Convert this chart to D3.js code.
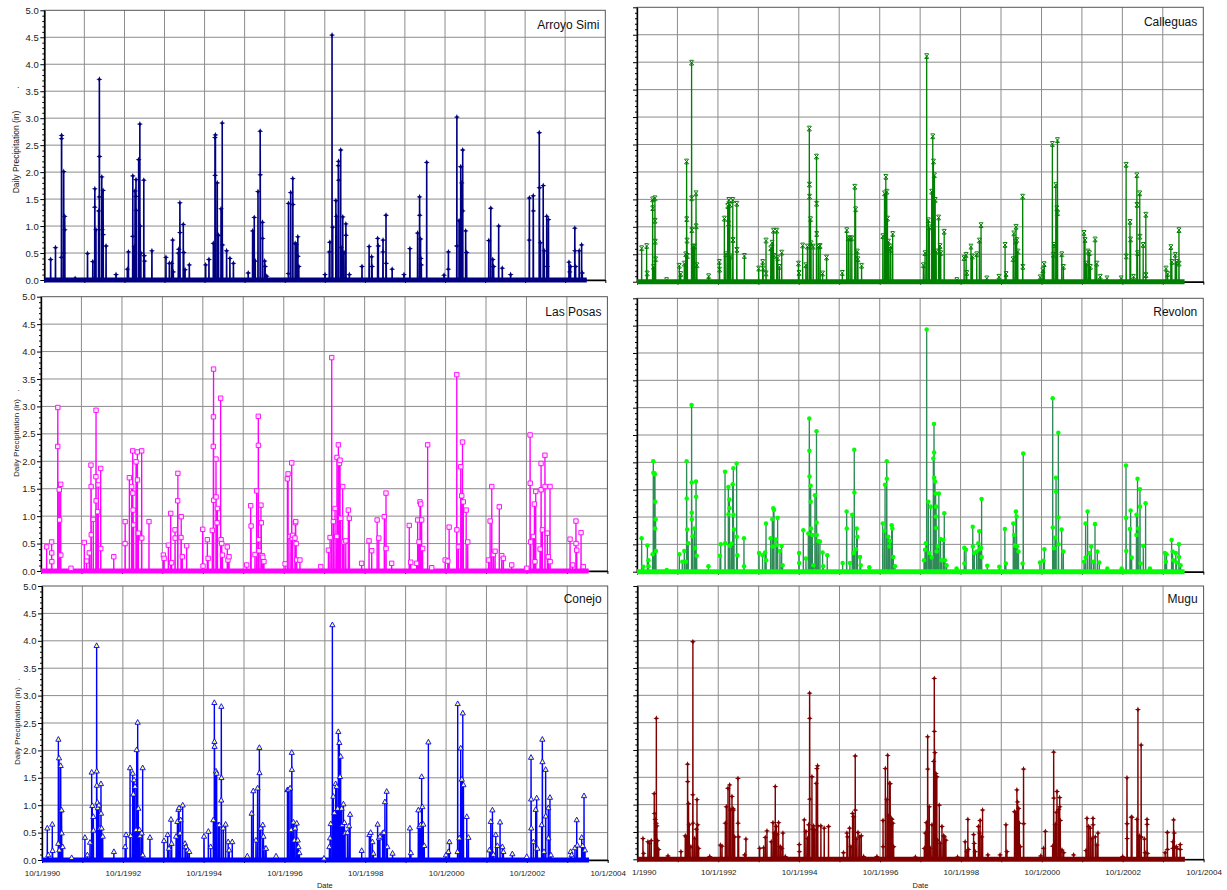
<!DOCTYPE html>
<html>
<head>
<meta charset="utf-8">
<script src="https://cdn.jsdelivr.net/npm/d3@7"></script>
<style>
  body { margin: 0; background: #fff; }
  svg { display: block; font-family: Arial, "Liberation Sans", sans-serif; }
</style>
</head>
<body>
<svg id="chart" width="1227" height="890"></svg>
<script>
// ---- data -----------------------------------------------------------------
// Daily precipitation (inches) by station; only days with rain are listed,
// every other day of the record is a dry day (0.0 in).
const period = ["1990-10-01", "2004-04-15"];
const axisYears = [1990, 1991, 1992, 1993, 1994, 1995, 1996, 1997, 1998, 1999, 2000, 2001, 2002, 2003, 2004];
const labelYears = [1990, 1992, 1994, 1996, 1998, 2000, 2002, 2004];
const yTicks = [0, 0.5, 1, 1.5, 2, 2.5, 3, 3.5, 4, 4.5, 5];
const stations = ["Arroyo Simi", "Calleguas", "Las Posas", "Revolon", "Conejo", "Mugu"];

const arroyoSimi = [
["1990-11-28",0.38],["1991-01-11",0.6],["1991-03-06",0.42],["1991-03-07",2.62],["1991-03-08",2.68],["1991-03-26",0.5],["1991-03-27",2.01],["1991-04-05",1.18],["1991-04-06",0.93],["1991-07-09",0.03],
["1991-10-30",0.49],["1991-12-17",0.34],["1992-01-04",1.35],["1992-01-05",1.69],["1992-01-15",0.93],["1992-02-08",1.28],["1992-02-14",1.54],["1992-02-15",3.72],["1992-02-16",2.29],["1992-03-08",1.91],["1992-03-12",0.93],["1992-03-20",1.66],["1992-03-21",0.84],["1992-04-16",0.63],["1992-07-16",0.1],
["1992-10-27",0.2],["1992-11-06",0.52],["1992-12-15",0.81],["1992-12-16",1.93],["1992-12-30",0.62],["1993-01-05",1.65],["1993-01-13",1.55],["1993-01-14",1.86],["1993-01-17",1.29],["1993-02-07",2.23],["1993-02-18",2.89],["1993-02-22",1.0],["1993-02-27",0.5],["1993-03-26",1.85],["1993-03-30",0.45],["1993-04-02",0.35],["1993-06-08",0.54],
["1993-10-14",0.42],["1993-11-14",0.31],["1993-12-05",0.31],["1993-12-14",0.74],["1993-12-20",0.15],["1994-02-04",0.5],["1994-02-08",0.57],["1994-02-18",1.43],["1994-02-19",0.88],["1994-03-21",1.03],["1994-03-25",0.51],["1994-04-06",0.19],["1994-05-15",0.28],
["1994-10-11",0.28],["1994-11-10",0.38],["1994-12-20",0.68],["1995-01-04",2.64],["1995-01-05",1.94],["1995-01-08",2.69],["1995-01-25",1.8],["1995-02-05",0.83],["1995-02-28",1.32],["1995-03-11",2.91],["1995-03-14",0.65],["1995-04-20",0.54],["1995-05-20",0.4],["1995-06-21",0.31],
["1995-11-03",0.13],["1995-12-13",0.91],["1995-12-28",1.16],["1996-01-06",0.35],["1996-01-31",1.64],["1996-02-20",2.76],["1996-02-21",1.95],["1996-03-12",1.07],["1996-03-13",0.77],["1996-04-01",0.35],["1996-04-05",0.25],["1996-04-20",0.07],
["1996-11-03",0.12],["1996-11-04",1.42],["1996-11-24",1.62],["1996-12-13",1.88],["1996-12-14",1.4],["1997-01-04",0.68],["1997-01-14",0.66],["1997-01-28",0.8],["1997-01-29",0.44],["1997-02-06",0.25],
["1997-10-03",0.1],["1997-11-11",0.52],["1997-11-16",0.7],["1997-12-06",4.54],["1997-12-12",0.98],["1998-01-10",1.47],["1998-01-15",1.18],["1998-02-01",2.12],["1998-02-03",2.2],["1998-02-04",1.85],["1998-02-23",2.41],["1998-02-27",0.6],["1998-03-14",1.17],["1998-03-25",0.51],["1998-04-11",1.04],["1998-04-12",0.83],["1998-05-13",0.1],
["1998-09-05",0.25],["1998-11-09",0.62],["1998-12-02",0.43],["1998-12-06",0.25],["1999-01-26",0.77],["1999-02-01",0.63],["1999-03-15",0.52],["1999-03-16",0.74],["1999-04-12",1.2],["1999-04-14",0.31],["1999-06-07",0.2],
["1999-09-23",0.1],["1999-11-16",0.58],["2000-01-25",0.87],["2000-02-12",1.54],["2000-02-13",1.2],["2000-02-21",0.76],["2000-02-24",0.4],["2000-02-28",0.28],["2000-04-17",2.18],
["2000-09-22",0.09],["2000-10-31",0.2],["2000-11-01",0.52],["2001-01-16",0.63],["2001-01-17",3.02],["2001-02-06",1.1],["2001-02-21",2.1],["2001-03-02",1.8],["2001-03-11",2.41],["2001-03-12",1.28],["2001-04-07",0.91],["2001-04-16",0.51],
["2001-11-04",0.73],["2001-11-22",1.33],["2001-12-10",0.38],["2001-12-18",0.25],["2002-02-02",1.0],["2002-03-07",0.22],["2002-05-22",0.1],
["2002-11-08",0.74],["2002-11-09",1.52],["2002-12-14",1.56],["2002-12-15",1.28],["2003-02-07",2.73],["2003-02-09",1.71],["2003-02-18",0.69],["2003-03-15",1.75],["2003-03-24",0.54],["2003-04-16",1.18],["2003-04-20",0.25],["2003-05-02",1.12],
["2003-11-05",0.33],["2003-11-12",0.15],["2003-11-19",0.25],["2003-12-28",0.96],["2003-12-29",0.54],["2004-01-04",0.25],["2004-02-06",0.54],["2004-02-28",0.65],["2004-03-05",0.13]
];

const calleguas = [
["1990-11-12",0.61],["1990-12-27",0.65],["1991-01-01",0.15],["1991-02-19",1.5],["1991-02-20",1.34],["1991-02-27",0.27],["1991-03-12",1.52],["1991-03-13",1.11],["1991-03-15",0.73],["1991-03-18",0.41],["1991-06-25",0.03],
["1991-10-18",0.29],["1991-10-31",0.14],["1991-12-02",0.33],["1991-12-15",0.5],["1991-12-23",2.19],["1991-12-24",1.14],["1991-12-27",0.75],["1991-12-30",0.47],["1992-02-06",3.99],["1992-02-07",1.52],["1992-02-08",0.94],["1992-02-20",0.64],["1992-03-02",0.64],["1992-03-17",1.61],["1992-03-18",1.01],["1992-03-25",0.3],["1992-07-09",0.1],
["1992-10-14",0.36],["1992-10-16",0.22],["1992-11-28",1.15],["1992-12-12",0.5],["1992-12-28",1.38],["1993-01-05",1.06],["1993-01-07",1.49],["1993-01-16",1.4],["1993-01-25",0.46],["1993-02-12",1.49],["1993-02-14",0.76],["1993-03-20",1.42],["1993-03-21",0.58],["1993-05-28",0.47],
["1993-10-04",0.24],["1993-11-09",0.36],["1993-11-13",0.24],["1993-12-09",0.75],["1993-12-10",0.15],["1994-01-21",0.61],["1994-02-02",0.71],["1994-02-14",0.93],["1994-02-18",0.47],["1994-03-16",0.93],["1994-03-24",0.43],["1994-04-09",0.27],["1994-04-30",0.53],
["1994-09-28",0.33],["1994-10-03",0.16],["1994-11-05",0.66],["1994-12-04",0.3],["1994-12-18",0.64],["1995-01-04",2.79],["1995-01-05",1.77],["1995-01-06",1.55],["1995-01-15",1.14],["1995-01-20",0.7],["1995-02-08",0.64],["1995-03-10",2.28],["1995-03-11",1.42],["1995-03-12",0.87],["1995-03-28",0.64],["1995-04-12",0.65],["1995-05-04",0.15],["1995-06-09",0.44],
["1995-10-29",0.16],["1995-12-08",0.94],["1995-12-23",0.79],["1996-01-08",0.79],["1996-01-23",0.79],["1996-02-19",1.73],["1996-02-26",1.32],["1996-03-12",0.55],["1996-03-18",0.41],["1996-04-20",0.29],
["1996-10-29",0.83],["1996-11-13",1.61],["1996-11-25",1.91],["1996-12-04",1.64],["1996-12-10",1.15],["1996-12-19",0.73],["1997-01-03",0.58],["1997-01-09",0.64],["1997-01-26",0.87],
["1997-10-30",0.3],["1997-11-14",0.52],["1997-11-29",4.11],["1997-12-14",1.12],["1997-12-23",0.99],["1998-01-13",1.64],["1998-01-23",2.65],["1998-01-29",2.19],["1998-02-07",1.94],["1998-02-14",1.49],["1998-02-23",0.55],["1998-03-17",1.17],["1998-03-29",0.65],["1998-04-05",0.52],["1998-05-06",0.91],
["1998-08-28",0.03],["1998-11-02",0.43],["1998-11-20",0.49],["1998-11-26",0.16],["1999-01-03",0.64],["1999-01-15",0.46],["1999-02-24",0.5],["1999-03-20",0.75],["1999-04-04",1.03],["1999-05-26",0.06],
["1999-09-13",0.09],["1999-11-07",0.67],["1999-11-16",0.14],["2000-01-19",0.41],["2000-01-25",0.88],["2000-02-09",0.73],["2000-02-14",1.0],["2000-02-20",0.76],["2000-03-01",0.55],["2000-04-14",1.55],["2000-04-15",0.27],
["2000-09-19",0.08],["2000-10-13",0.21],["2000-10-25",0.32],["2001-01-07",2.51],["2001-01-16",0.49],["2001-01-22",0.67],["2001-02-07",1.76],["2001-02-16",1.34],["2001-02-22",2.58],["2001-02-23",1.25],["2001-04-02",0.5],["2001-04-17",0.27],
["2001-10-20",0.89],["2001-10-29",0.76],["2001-11-10",0.33],["2001-11-25",0.55],["2001-12-08",0.52],["2001-12-17",0.27],["2002-01-28",0.77],["2002-02-12",0.33],["2002-03-15",0.09],["2002-05-15",0.06],
["2002-09-20",0.06],["2002-11-04",2.13],["2002-11-05",0.46],["2002-12-09",1.09],["2002-12-15",0.77],["2003-01-10",0.09],["2003-02-09",1.94],["2003-02-10",1.4],["2003-02-15",0.52],["2003-03-07",1.61],["2003-03-08",0.82],["2003-04-07",0.67],["2003-05-01",1.22],["2003-05-02",0.12],
["2003-10-30",0.24],["2003-11-14",0.14],["2003-12-13",0.63],["2003-12-22",0.36],["2004-01-22",0.49],["2004-02-03",0.36],["2004-02-24",0.94],["2004-02-25",0.33]
];

const lasPosas = [
["1990-11-21",0.44],["1991-01-05",0.53],["1991-01-06",0.33],["1991-01-07",0.17],["1991-03-01",2.27],["1991-03-02",2.98],["1991-03-15",1.48],["1991-03-18",0.93],["1991-03-28",1.58],["1991-03-29",0.29],["1991-06-29",0.05],
["1991-10-27",0.52],["1991-11-17",0.18],["1991-12-11",0.33],["1991-12-26",1.93],["1991-12-28",1.54],["1991-12-29",0.66],["1992-01-16",0.94],["1992-02-09",1.72],["1992-02-10",2.93],["1992-02-11",1.28],["1992-02-24",1.08],["1992-03-01",1.57],["1992-03-23",1.87],["1992-03-24",0.41],["1992-07-19",0.26],
["1992-10-29",0.5],["1992-10-30",0.9],["1992-12-07",1.7],["1992-12-28",1.54],["1993-01-06",2.19],["1993-01-07",1.42],["1993-01-10",1.11],["1993-01-14",0.84],["1993-02-05",1.99],["1993-02-17",2.17],["1993-02-18",1.66],["1993-02-26",0.69],["1993-03-28",2.19],["1993-03-29",0.6],["1993-06-02",0.9],
["1993-10-10",0.29],["1993-10-17",0.23],["1993-11-24",0.47],["1993-12-15",1.05],["1993-12-23",0.15],["1994-01-23",0.75],["1994-01-24",0.6],["1994-02-16",1.28],["1994-02-18",1.78],["1994-03-18",0.61],["1994-03-20",0.99],["1994-03-30",0.26],["1994-05-08",0.46],
["1994-09-30",0.76],["1994-10-03",0.09],["1994-11-11",0.57],["1994-11-18",0.23],["1994-12-26",0.74],["1995-01-04",2.27],["1995-01-05",2.81],["1995-01-06",3.68],["1995-01-07",1.29],["1995-01-28",2.04],["1995-01-29",1.35],["1995-02-07",0.88],["1995-02-10",1.14],["1995-03-11",3.15],["1995-03-15",0.57],["1995-03-21",0.5],["1995-03-27",0.29],["1995-05-10",0.44],["1995-05-16",0.2],["1995-05-26",0.26],
["1995-11-01",0.11],["1995-12-07",1.19],["1995-12-11",0.82],["1996-01-15",0.3],["1996-01-30",1.46],["1996-02-14",2.82],["1996-02-15",2.29],["1996-02-18",0.57],["1996-02-20",0.37],["1996-03-09",1.2],["1996-03-12",0.88],["1996-03-20",0.28],["1996-03-26",0.25],["1996-04-05",0.17],
["1996-10-13",0.13],["1996-11-03",1.68],["1996-11-09",1.77],["1996-11-27",0.63],["1996-12-12",1.97],["1996-12-16",0.6],["1996-12-20",0.65],["1997-01-10",0.6],["1997-01-14",0.88],["1997-01-17",0.9],["1997-01-21",0.5],["1997-01-26",0.2],["1997-02-24",0.2],["1997-08-31",0.08],
["1997-11-08",0.38],["1997-11-23",0.61],["1997-12-08",3.89],["1997-12-23",0.9],["1998-01-07",1.14],["1998-01-22",0.63],["1998-01-24",2.07],["1998-02-06",2.3],["1998-02-15",1.96],["1998-02-21",2.02],["1998-02-27",0.96],["1998-03-17",1.54],["1998-03-29",0.53],["1998-04-14",0.55],["1998-05-07",1.11],["1998-05-16",0.96],
["1998-09-04",0.14],["1998-11-10",0.55],["1998-12-04",0.37],["1999-01-22",0.93],["1999-02-06",0.6],["1999-03-28",0.99],["1999-04-12",1.42],["1999-04-13",0.41],["1999-06-02",0.14],
["1999-11-08",0.83],["1999-11-21",0.16],["2000-01-13",0.14],["2000-01-23",0.93],["2000-02-04",0.53],["2000-02-13",1.26],["2000-02-19",1.22],["2000-02-28",0.93],["2000-03-08",0.41],["2000-04-22",2.3],["2000-05-29",0.06],
["2000-09-27",0.2],["2000-10-21",0.18],["2000-11-02",0.8],["2001-01-10",3.58],["2001-01-11",0.75],["2001-01-25",0.44],["2001-02-15",1.9],["2001-02-24",1.37],["2001-03-03",2.35],["2001-03-10",1.26],["2001-04-05",1.11],["2001-04-19",0.53],
["2001-10-24",0.2],["2001-11-07",0.91],["2001-11-22",1.54],["2001-12-07",0.3],["2001-12-22",0.36],["2002-01-29",1.17],["2002-02-20",0.28],["2002-03-07",0.23],["2002-05-21",0.11],
["2002-10-04",0.05],["2002-11-03",2.48],["2002-11-04",1.6],["2002-11-08",0.53],["2002-12-02",0.63],["2002-12-12",1.22],["2002-12-17",0.17],["2002-12-24",1.45],["2003-02-01",0.4],["2003-02-10",1.96],["2003-02-11",1.48],["2003-02-22",0.75],["2003-03-17",2.11],["2003-03-18",1.54],["2003-04-08",0.69],["2003-04-17",0.26],["2003-05-02",1.54],["2003-05-03",0.17],
["2003-10-30",0.58],["2003-11-22",0.11],["2003-12-22",0.91],["2003-12-23",0.5],["2003-12-29",0.38],["2004-02-06",0.7],["2004-02-27",0.08]
];

const revolon = [
["1990-11-12",0.61],["1990-11-27",0.09],["1991-01-03",0.48],["1991-01-12",0.21],["1991-01-13",0.1],["1991-02-19",0.32],["1991-02-25",2.02],["1991-02-26",1.81],["1991-03-06",1.8],["1991-03-12",1.78],["1991-03-13",1.28],["1991-03-14",0.79],["1991-03-18",0.96],["1991-03-21",0.38],["1991-06-26",0.03],
["1991-10-18",0.32],["1991-11-14",0.18],["1991-12-02",0.38],["1991-12-17",0.18],["1991-12-23",2.02],["1991-12-24",1.34],["1991-12-28",0.77],["1992-01-07",0.52],["1992-02-06",3.05],["1992-02-07",1.63],["1992-02-08",1.08],["1992-02-09",0.96],["1992-02-15",0.65],["1992-03-02",0.79],["1992-03-07",0.43],["1992-03-17",1.65],["1992-03-18",1.37],["1992-03-23",0.29],["1992-07-07",0.1],
["1992-10-20",0.29],["1992-10-26",0.5],["1992-12-04",1.83],["1992-12-05",0.52],["1993-01-03",1.55],["1993-01-04",1.05],["1993-01-12",1.32],["1993-01-13",1.16],["1993-01-18",0.47],["1993-02-02",0.51],["1993-02-11",1.6],["1993-02-17",1.89],["1993-02-18",1.04],["1993-02-23",0.77],["1993-03-19",1.98],["1993-03-20",0.64],["1993-03-25",0.3],["1993-05-24",0.61],["1993-05-25",0.1],
["1993-10-07",0.34],["1993-11-08",0.3],["1993-11-30",0.35],["1993-12-09",0.88],["1993-12-10",0.21],["1994-01-20",0.61],["1994-02-04",0.96],["1994-02-05",0.46],["1994-02-13",1.16],["1994-02-19",1.13],["1994-03-09",0.59],["1994-03-15",0.49],["1994-03-24",0.98],["1994-04-14",0.38],["1994-04-29",0.47],["1994-05-08",0.12],
["1994-10-03",0.34],["1994-10-04",0.16],["1994-11-11",0.76],["1994-12-05",0.24],["1994-12-26",0.7],["1995-01-04",2.8],["1995-01-05",2.21],["1995-01-06",1.74],["1995-01-16",1.57],["1995-01-17",1.28],["1995-01-20",0.79],["1995-01-31",0.67],["1995-02-09",0.12],["1995-02-24",1.4],["1995-03-10",2.57],["1995-03-11",0.9],["1995-03-12",0.67],["1995-03-26",0.56],["1995-04-10",0.55],["1995-05-04",0.35],["1995-05-10",0.1],["1995-06-15",0.3],
["1995-11-01",0.16],["1995-12-07",1.1],["1995-12-08",0.79],["1996-01-06",0.16],["1996-01-27",1.04],["1996-02-05",0.34],["1996-02-14",2.23],["1996-02-15",1.45],["1996-03-01",0.41],["1996-03-07",0.79],["1996-03-13",0.64],["1996-04-06",0.27],["1996-04-12",0.12],["1996-06-29",0.08],
["1996-10-28",0.88],["1996-11-12",0.75],["1996-11-18",1.59],["1996-12-03",2.02],["1996-12-04",1.7],["1996-12-18",0.64],["1996-12-27",0.46],["1997-01-02",0.56],["1997-01-17",0.85],["1997-01-23",0.79],["1997-02-01",0.27],["1997-02-16",0.1],
["1997-11-05",0.21],["1997-11-14",0.4],["1997-11-22",0.52],["1997-11-29",4.43],["1997-12-14",1.28],["1997-12-23",0.34],["1998-01-04",1.19],["1998-01-13",0.26],["1998-01-28",2.07],["1998-02-03",2.7],["1998-02-04",2.18],["1998-02-05",1.72],["1998-02-12",1.65],["1998-02-18",1.43],["1998-02-21",1.01],["1998-02-22",1.19],["1998-02-23",0.8],["1998-02-27",0.37],["1998-03-09",0.46],["1998-03-19",1.43],["1998-04-03",0.6],["1998-04-12",0.21],["1998-04-28",0.58],["1998-05-07",1.07],["1998-05-13",0.21],["1998-05-28",0.12],
["1998-08-26",0.06],["1998-11-04",0.44],["1998-11-05",0.15],["1998-11-19",0.4],["1999-01-19",0.82],["1999-01-20",0.46],["1999-02-02",0.34],["1999-02-23",0.37],["1999-03-10",0.52],["1999-03-19",0.74],["1999-03-25",0.41],["1999-04-03",0.44],["1999-04-09",1.33],["1999-04-10",0.27],["1999-05-30",0.11],
["1999-09-16",0.09],["1999-11-05",0.78],["1999-11-14",0.15],["2000-01-20",0.88],["2000-01-29",0.67],["2000-02-04",0.48],["2000-02-13",1.1],["2000-02-19",1.01],["2000-02-25",0.46],["2000-03-07",0.37],["2000-04-13",0.15],["2000-04-19",2.16],
["2000-09-17",0.17],["2000-10-18",0.2],["2000-10-27",0.41],["2001-01-10",3.17],["2001-01-11",0.81],["2001-01-22",0.43],["2001-01-31",0.62],["2001-02-09",1.72],["2001-02-10",1.46],["2001-03-02",2.54],["2001-03-03",0.99],["2001-03-04",0.5],["2001-04-01",0.77],["2001-04-16",0.37],
["2001-10-20",0.18],["2001-11-03",0.88],["2001-11-04",0.26],["2001-11-21",1.1],["2001-12-09",0.34],["2001-12-24",0.46],["2002-01-12",0.18],["2002-01-27",0.87],["2002-02-17",0.37],["2002-03-07",0.17],["2002-05-18",0.06],
["2002-09-25",0.06],["2002-11-03",1.94],["2002-11-04",0.98],["2002-11-05",0.38],["2002-12-09",0.78],["2002-12-15",1.12],["2002-12-24",0.26],["2003-02-05",0.67],["2003-02-06",1.04],["2003-02-15",1.7],["2003-02-21",0.79],["2003-03-09",1.51],["2003-03-10",1.19],["2003-03-15",0.15],["2003-04-08",0.47],["2003-04-29",1.25],["2003-06-07",0.06],
["2003-10-20",0.34],["2003-10-29",0.18],["2003-11-04",0.32],["2003-12-20",0.58],["2003-12-29",0.37],["2004-01-03",0.21],["2004-01-27",0.34],["2004-02-02",0.17],["2004-02-24",0.5],["2004-02-25",0.27],["2004-03-10",0.12]
];

const conejo = [
["1990-11-18",0.58],["1990-11-27",0.09],["1991-01-02",0.65],["1991-01-05",0.17],["1991-02-25",0.3],["1991-02-26",2.2],["1991-03-04",1.86],["1991-03-07",0.18],["1991-03-19",1.72],["1991-03-20",0.91],["1991-03-27",0.91],["1991-03-28",0.49],["1991-04-06",0.24],["1991-06-26",0.04],
["1991-10-24",0.41],["1991-11-15",0.09],["1991-12-09",0.32],["1991-12-24",1.6],["1991-12-30",0.99],["1992-01-08",0.79],["1992-01-09",0.54],["1992-02-07",3.91],["1992-02-08",1.62],["1992-02-09",1.36],["1992-02-14",1.05],["1992-02-17",0.95],["1992-02-28",1.0],["1992-03-08",0.58],["1992-03-17",1.39],["1992-03-18",0.85],["1992-03-23",0.58],["1992-04-02",0.43],["1992-07-12",0.15],
["1992-10-21",0.24],["1992-10-30",0.46],["1992-12-05",1.68],["1992-12-11",0.44],["1992-12-29",1.58],["1993-01-04",1.2],["1993-01-10",1.46],["1993-01-19",1.34],["1993-01-28",0.55],["1993-02-03",2.01],["1993-02-12",2.51],["1993-02-18",0.94],["1993-02-27",0.55],["1993-03-05",0.44],["1993-03-20",0.49],["1993-03-29",1.68],["1993-03-30",0.09],["1993-06-03",0.41],
["1993-10-08",0.35],["1993-11-10",0.46],["1993-11-22",0.21],["1993-12-10",0.74],["1993-12-16",0.3],["1994-01-25",0.43],["1994-02-06",0.7],["1994-02-15",0.92],["1994-02-21",0.95],["1994-03-02",0.49],["1994-03-08",0.73],["1994-03-26",1.0],["1994-04-16",0.3],["1994-04-25",0.24],["1994-05-10",0.18],["1994-05-25",0.15],
["1994-10-05",0.43],["1994-11-13",0.52],["1994-12-04",0.24],["1994-12-28",0.73],["1995-01-06",2.87],["1995-01-07",2.16],["1995-01-08",2.07],["1995-01-21",1.62],["1995-01-27",1.58],["1995-02-11",0.64],["1995-02-20",0.64],["1995-03-09",1.09],["1995-03-10",2.8],["1995-03-11",1.5],["1995-03-28",0.58],["1995-04-18",0.65],["1995-05-11",0.33],["1995-05-20",0.18],["1995-06-17",0.33],
["1995-10-31",0.07],["1995-12-09",0.85],["1995-12-24",1.26],["1996-01-17",0.36],["1996-02-01",1.31],["1996-02-17",2.05],["1996-02-18",1.59],["1996-03-01",0.58],["1996-03-19",0.64],["1996-03-25",0.43],["1996-04-09",0.21],["1996-04-18",0.21],["1996-07-17",0.07],
["1996-10-28",1.28],["1996-11-06",1.28],["1996-11-21",1.31],["1996-11-30",0.55],["1996-12-06",1.96],["1996-12-07",1.65],["1996-12-21",0.69],["1996-12-30",0.36],["1997-01-05",0.58],["1997-01-20",0.67],["1997-01-29",0.36],["1997-02-04",0.24],["1997-02-13",0.13],
["1997-09-23",0.03],["1997-11-11",0.24],["1997-11-17",0.4],["1997-11-23",0.66],["1997-12-08",4.29],["1997-12-17",1.16],["1997-12-26",0.86],["1998-01-07",1.39],["1998-01-16",1.34],["1998-01-25",0.94],["1998-01-31",2.34],["1998-02-09",2.14],["1998-02-15",1.52],["1998-02-21",1.89],["1998-03-02",0.94],["1998-03-08",0.64],["1998-03-18",1.02],["1998-03-27",0.68],["1998-04-02",0.49],["1998-04-23",0.5],["1998-05-08",0.62],["1998-05-17",0.83],
["1998-08-30",0.17],["1998-11-07",0.46],["1998-11-19",0.5],["1998-12-05",0.33],["1998-12-14",0.12],["1999-01-21",0.65],["1999-02-02",0.4],["1999-02-11",0.43],["1999-03-07",0.49],["1999-03-19",0.5],["1999-03-28",1.06],["1999-04-13",1.25],["1999-04-19",0.24],["1999-06-05",0.12],
["1999-11-09",0.58],["1999-11-18",0.13],["2000-01-24",0.91],["2000-02-02",0.61],["2000-02-14",0.64],["2000-02-23",1.52],["2000-02-29",0.97],["2000-03-09",0.65],["2000-03-18",0.26],["2000-04-24",2.15],
["2000-09-30",0.09],["2000-10-22",0.15],["2000-10-31",0.33],["2001-01-13",0.15],["2001-01-14",2.85],["2001-01-29",0.4],["2001-02-10",2.04],["2001-02-20",1.47],["2001-03-01",2.68],["2001-03-07",1.37],["2001-04-06",0.79],["2001-04-21",0.41],
["2001-10-28",0.18],["2001-11-09",0.7],["2001-11-24",0.91],["2001-12-03",0.1],["2001-12-24",0.46],["2002-01-08",0.26],["2002-02-01",0.69],["2002-02-22",0.24],["2002-03-03",0.15],["2002-05-23",0.11],
["2002-09-30",0.06],["2002-11-08",1.87],["2002-11-09",1.11],["2002-11-10",0.58],["2002-11-29",0.33],["2002-12-20",0.92],["2002-12-29",1.13],["2003-01-04",0.21],["2003-02-12",0.64],["2003-02-18",2.2],["2003-02-19",1.79],["2003-03-05",0.15],["2003-03-20",1.65],["2003-03-21",0.8],["2003-04-13",0.95],["2003-04-14",0.4],["2003-04-28",1.14],["2003-05-07",0.09],
["2003-11-01",0.15],["2003-11-10",0.09],["2003-12-10",0.22],["2003-12-26",0.73],["2004-01-01",0.27],["2004-02-09",0.41],["2004-02-18",0.26],["2004-03-01",1.17],["2004-03-10",0.18]
];

const mugu = [
["1990-11-21",0.38],["1990-11-27",0.11],["1991-01-05",0.32],["1991-01-20",0.29],["1991-02-04",0.34],["1991-03-03",1.2],["1991-03-06",0.84],["1991-03-12",0.73],["1991-03-21",0.66],["1991-03-22",2.58],["1991-03-27",0.61],["1991-04-02",0.34],["1991-04-12",0.18],["1991-07-05",0.06],
["1991-10-30",0.14],["1991-12-08",0.43],["1991-12-17",0.41],["1991-12-29",1.74],["1991-12-30",1.42],["1992-01-07",1.02],["1992-01-13",0.63],["1992-01-28",0.23],["1992-02-14",1.18],["1992-02-15",3.98],["1992-02-16",0.66],["1992-03-02",0.38],["1992-03-17",0.55],["1992-03-23",1.09],["1992-03-29",0.63],["1992-04-07",0.2],["1992-07-16",0.05],
["1992-10-20",0.26],["1992-11-04",0.24],["1992-12-04",0.66],["1992-12-13",0.96],["1992-12-28",1.3],["1993-01-12",1.36],["1993-01-18",0.9],["1993-02-02",1.15],["1993-02-11",0.93],["1993-02-17",0.9],["1993-02-26",0.41],["1993-03-28",1.48],["1993-03-29",0.66],["1993-04-03",0.41],["1993-05-27",0.08],["1993-06-08",0.37],
["1993-10-10",0.2],["1993-11-15",0.21],["1993-11-30",0.4],["1993-12-15",0.52],["1994-01-23",0.32],["1994-02-07",0.67],["1994-02-19",0.48],["1994-02-28",1.33],["1994-03-09",0.6],["1994-03-15",0.46],["1994-03-30",0.67],["1994-04-14",0.23],["1994-04-29",0.2],["1994-05-08",0.48],["1994-05-29",0.05],
["1994-10-03",0.27],["1994-10-04",0.14],["1994-11-17",0.72],["1994-12-02",0.51],["1994-12-17",0.38],["1994-12-26",0.63],["1995-01-04",3.04],["1995-01-05",2.58],["1995-01-06",1.1],["1995-01-25",1.51],["1995-01-31",0.55],["1995-02-09",0.61],["1995-02-18",0.54],["1995-03-05",1.39],["1995-03-11",1.66],["1995-03-17",1.71],["1995-03-19",0.61],["1995-04-16",0.61],["1995-05-16",0.57],["1995-06-24",0.6],
["1995-11-06",0.12],["1995-12-07",0.48],["1995-12-13",0.41],["1995-12-31",0.57],["1996-01-12",0.23],["1996-01-27",0.84],["1996-02-05",0.78],["1996-02-20",1.89],["1996-02-21",0.9],["1996-02-29",0.37],["1996-03-16",0.49],["1996-03-31",0.41],["1996-04-15",0.43],["1996-05-06",0.05],["1996-09-03",0.05],
["1996-10-28",0.71],["1996-10-29",0.23],["1996-11-18",1.66],["1996-12-03",1.09],["1996-12-09",1.9],["1996-12-18",0.79],["1996-12-26",1.39],["1997-01-01",1.38],["1997-01-10",0.75],["1997-01-16",0.73],["1997-01-25",0.66],["1997-02-01",0.23],["1997-08-16",0.04],
["1997-11-05",0.2],["1997-11-14",0.48],["1997-11-23",0.67],["1997-12-05",2.24],["1997-12-06",1.65],["1997-12-20",0.96],["1997-12-29",0.2],["1998-01-13",0.63],["1998-01-28",1.79],["1998-02-03",3.31],["1998-02-04",2.34],["1998-02-09",1.95],["1998-02-17",1.57],["1998-02-26",1.51],["1998-03-04",0.35],["1998-03-20",0.99],["1998-03-29",0.29],["1998-04-13",0.6],["1998-04-28",0.43],["1998-05-07",0.41],["1998-05-19",0.35],
["1998-09-01",0.04],["1998-11-09",0.32],["1998-11-24",0.14],["1998-12-03",0.73],["1998-12-09",0.18],["1999-01-24",0.45],["1999-01-30",0.29],["1999-02-08",0.14],["1999-03-09",0.6],["1999-03-18",0.48],["1999-03-24",0.71],["1999-04-08",0.41],["1999-04-15",0.9],["1999-06-02",0.08],
["1999-09-20",0.08],["1999-11-12",0.63],["1999-11-21",0.14],["2000-01-29",0.87],["2000-02-10",0.85],["2000-02-19",1.27],["2000-02-25",1.05],["2000-03-06",0.93],["2000-03-12",0.66],["2000-03-21",0.23],["2000-04-19",1.65],["2000-04-20",0.65],
["2000-09-22",0.06],["2000-10-17",0.2],["2000-11-02",0.51],["2001-01-07",0.24],["2001-01-16",1.96],["2001-01-17",1.12],["2001-01-31",0.64],["2001-02-09",0.86],["2001-02-15",1.24],["2001-03-02",0.91],["2001-03-11",1.13],["2001-03-12",0.96],["2001-03-17",0.71],["2001-04-01",0.17],["2001-04-16",0.12],["2001-07-15",0.08],
["2001-11-04",0.16],["2001-11-13",0.75],["2001-11-28",0.6],["2001-12-13",0.57],["2001-12-28",0.38],["2002-01-06",0.75],["2002-01-07",0.63],["2002-01-27",0.41],["2002-02-11",0.26],["2002-02-20",0.48],
["2002-10-01",0.05],["2002-11-09",1.49],["2002-11-10",0.65],["2002-11-11",0.38],["2002-12-18",0.77],["2002-12-24",0.77],["2003-02-07",0.73],["2003-02-16",2.74],["2003-02-28",0.43],["2003-03-15",0.4],["2003-03-17",2.09],["2003-03-18",0.41],["2003-04-16",0.37],["2003-04-22",0.12],["2003-05-09",0.73],["2003-05-10",0.64],["2003-05-14",0.11],
["2003-10-20",0.12],["2003-11-09",0.49],["2003-11-10",0.18],["2003-12-28",0.2],["2003-12-29",0.32],["2004-01-04",0.72],["2004-01-10",0.48],["2004-01-28",0.23],["2004-02-03",0.2],["2004-03-04",0.27],["2004-03-05",0.18]
];

// ---- layout & styling -----------------------------------------------------
const seriesByStation = [arroyoSimi, calleguas, lasPosas, revolon, conejo, mugu];

const panels = [
  { left: 44.3, right: 605.3, top: 10.3, bottom: 280,   yLabels: true,  xLabels: false, titleY: 29,
    line: "#000080", lw: 1.6, mark: "star",     mStroke: "none",    mFill: "#000080", band: "#000080", yTitle: [18.5, 152, 8.5, 64] },
  { left: 637,  right: 1203.3, top: 7.3,  bottom: 281.7, yLabels: false, xLabels: false, titleY: 26,
    line: "#008000", lw: 1.3, mark: "cross",    mStroke: "#008000", mFill: "none",    band: "#008000" },
  { left: 41,   right: 607.4, top: 296.7, bottom: 571,  yLabels: true,  xLabels: false, titleY: 316,
    line: "#ff00ff", lw: 1.3, mark: "square",   mStroke: "#ff00ff", mFill: "#ffe6ff", band: "#ff00ff", yTitle: [19, 438, 8, 47] },
  { left: 637,  right: 1203.3, top: 298.3, bottom: 571.7, yLabels: false, xLabels: false, titleY: 316,
    line: "#2e8b57", lw: 1.3, mark: "circle",   mStroke: "none",    mFill: "#00ff00", band: "#00ff00" },
  { left: 42,   right: 607.7, top: 586,  bottom: 860,   yLabels: true,  xLabels: true,  titleY: 603,
    line: "#0000ff", lw: 1.4, mark: "triangle", mStroke: "#0000ff", mFill: "#ffff80", band: "#0000ff", yTitle: [19.5, 726, 8, 46] },
  { left: 637.3, right: 1203.6, top: 586, bottom: 859.3, yLabels: false, xLabels: true,  titleY: 603,
    line: "#800000", lw: 1.4, mark: "star",     mStroke: "none",    mFill: "#800000", band: "#800000", firstLabelCut: 631.5 }
];

const markerPaths = {
  star: "M0,-3L0.9,-0.9L3,0L0.9,0.9L0,3L-0.9,0.9L-3,0L-0.9,-0.9Z",
  cross: "M-2.2,-2.2L2.2,2.2M2.2,-2.2L-2.2,2.2M-1.9,-2.4H1.9M-1.9,2.4H1.9",
  square: "M-2.2,-2.2H2.2V2.2H-2.2Z",
  circle: d3.symbol(d3.symbolCircle, 16)(),
  triangle: "M0,-2.9L2.6,1.8H-2.6Z"
};

// ---- drawing --------------------------------------------------------------
const svg = d3.select("#chart");
svg.append("rect").attr("width", 1227).attr("height", 890).attr("fill", "#fff");

const parse = d3.utcParse("%Y-%m-%d");
const keyOf = d3.utcFormat("%Y-%m-%d");
const labelFmt = d3.utcFormat("%-m/%-d/%Y");
const startDay = parse(period[0]);
const endDay = parse(period[1]);
const allDays = d3.utcDay.range(startDay, d3.utcDay.offset(endDay, 1));
const tickDates = axisYears.map(yr => new Date(Date.UTC(yr, 9, 1)));
const labelSet = new Set(labelYears);
const minorTicks = d3.range(0, 51).map(i => i / 10).filter(v => Math.round(v * 10) % 5 !== 0);
const FONT = "Arial, 'Liberation Sans', sans-serif";

function drawPanel(p, idx, layer) {
  const rows = seriesByStation[idx];
  const rain = new Map(rows.map(([d, v]) => [d, v]));
  const daily = allDays.map(d => ({ date: d, value: rain.get(keyOf(d)) || 0 }));
  const wet = rows.map(([d, v]) => ({ date: parse(d), value: v })).filter(d => d.value > 0);

  const x = d3.scaleUtc().domain([tickDates[0], tickDates[tickDates.length - 1]]).range([p.left, p.right]);
  const y = d3.scaleLinear().domain([0, 5]).range([p.bottom, p.top]);

  const g = layer.append("g");

  // grid
  g.append("g").selectAll("line").data(yTicks.slice(1, -1)).join("line")
    .attr("x1", p.left).attr("x2", p.right).attr("y1", d => y(d)).attr("y2", d => y(d))
    .attr("stroke", "#8c8c8c").attr("stroke-width", 1);
  g.append("g").selectAll("line").data(tickDates.slice(1, -1)).join("line")
    .attr("x1", d => x(d)).attr("x2", d => x(d)).attr("y1", p.top).attr("y2", p.bottom)
    .attr("stroke", "#8c8c8c").attr("stroke-width", 1);

  // frame
  g.append("rect").attr("x", p.left).attr("y", p.top)
    .attr("width", p.right - p.left).attr("height", p.bottom - p.top)
    .attr("fill", "none").attr("stroke", "#555").attr("stroke-width", 1);

  // y axis: minor then major ticks
  const yAxisG = g.append("g").attr("transform", `translate(${p.left},0)`);
  yAxisG.append("g").call(d3.axisLeft(y).tickValues(minorTicks).tickSize(2).tickSizeOuter(0).tickFormat(""));
  yAxisG.append("g").call(d3.axisLeft(y).tickValues(yTicks).tickSize(4).tickSizeOuter(0).tickPadding(p.yLabels ? 1.5 : 0)
    .tickFormat(p.yLabels ? d3.format(".1f") : ""));
  yAxisG.selectAll("path.domain").attr("stroke", "#000").attr("stroke-width", 1.2);
  yAxisG.selectAll(".tick line").attr("stroke", "#000");
  yAxisG.selectAll("text").attr("font-size", 9.5).attr("fill", "#222").attr("font-family", FONT);

  // x axis
  const xAxisG = g.append("g").attr("transform", `translate(0,${p.bottom})`);
  xAxisG.call(d3.axisBottom(x).tickValues(tickDates).tickSize(3).tickSizeOuter(0).tickPadding(7)
    .tickFormat(d => (p.xLabels && labelSet.has(d.getUTCFullYear())) ? labelFmt(d) : ""));
  xAxisG.selectAll("path.domain").attr("stroke", "#000").attr("stroke-width", 1.4);
  xAxisG.selectAll(".tick line").attr("stroke", "#000");
  xAxisG.selectAll("text").attr("font-size", 8).attr("fill", "#222").attr("font-family", FONT);
  if (p.firstLabelCut) {
    // the neighbouring chart covers the start of this panel's first date label
    const first = xAxisG.select(".tick text");
    const full = first.text();
    first.text(full.slice(full.indexOf("/") + 1))
      .attr("text-anchor", "start").attr("x", p.firstLabelCut - x(tickDates[0]));
  }

  // series line through every day of the record
  const line = d3.line().x(d => x(d.date)).y(d => y(d.value));
  g.append("path").datum(daily).attr("d", line)
    .attr("fill", "none").attr("stroke", p.line).attr("stroke-width", p.lw).attr("stroke-linejoin", "round");

  // dry-day markers merge into a solid band along zero
  g.append("line")
    .attr("x1", x(startDay)).attr("x2", x(endDay)).attr("y1", y(0)).attr("y2", y(0))
    .attr("stroke", p.band).attr("stroke-width", 5);

  // wet-day markers
  g.append("g").selectAll("path").data(wet).join("path")
    .attr("transform", d => `translate(${x(d.date)},${y(d.value)})`)
    .attr("d", markerPaths[p.mark])
    .attr("fill", p.mFill).attr("stroke", p.mStroke).attr("stroke-width", p.mark === "cross" ? 1 : 0.9);

  // station name
  g.append("text").attr("x", p.right - 6).attr("y", p.titleY).attr("text-anchor", "end")
    .attr("font-size", 12).attr("fill", "#111").text(stations[idx]);

  // y title
  if (p.yTitle) {
    const [tx, ty, fs, dotGap] = p.yTitle;
    g.append("text").attr("transform", `translate(${tx},${ty}) rotate(-90)`).attr("text-anchor", "middle")
      .attr("font-size", fs).attr("fill", "#222").text("Daily Precipitation (in)");
    g.append("text").attr("x", tx - 1.5).attr("y", ty - dotGap).attr("font-size", fs).attr("fill", "#222").text(".");
  }

  // x title
  if (p.xLabels) {
    g.append("text").attr("x", (p.left + p.right) / 2).attr("y", 888).attr("text-anchor", "middle")
      .attr("font-size", 7.5).attr("fill", "#222").text("Date");
  }
}

panels.forEach((p, i) => drawPanel(p, i, svg.append("g")));
</script>
</body>
</html>
